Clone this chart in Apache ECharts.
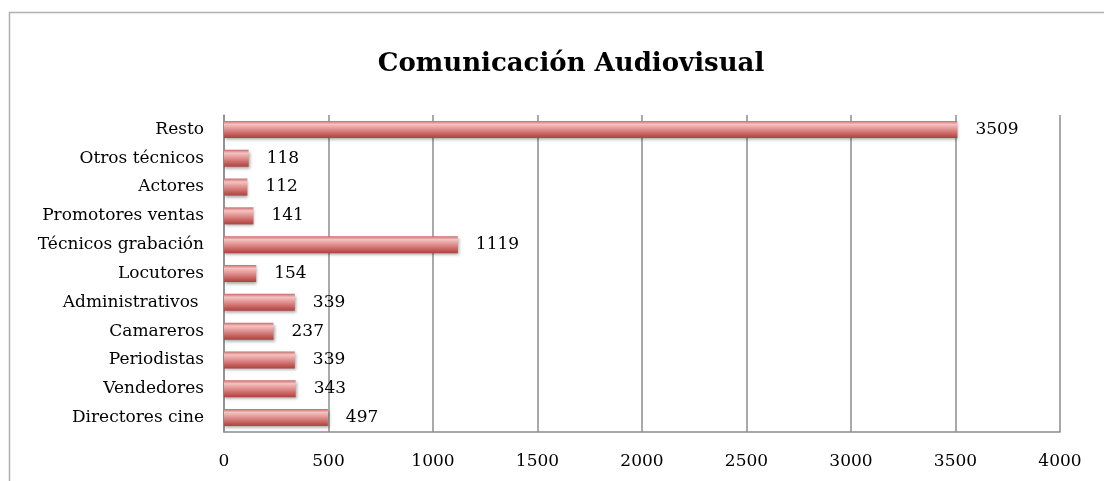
<!DOCTYPE html>
<html>
<head>
<meta charset="utf-8">
<script src="https://cdn.jsdelivr.net/npm/echarts@6/dist/echarts.min.js"></script>
<style>
  html, body { margin: 0; padding: 0; background: #fff; }
  #chart { width: 1104px; height: 481px; }
</style>
</head>
<body>
<div id="chart"></div>
<script>
// categories, bottom to top
const categories = ['Directores cine', 'Vendedores', 'Periodistas', 'Camareros', 'Administrativos ',
  'Locutores', 'Técnicos grabación', 'Promotores ventas', 'Actores', 'Otros técnicos', 'Resto']
const values = [497, 343, 339, 237, 339, 154, 1119, 141, 112, 118, 3509]
const xTicks = [0, 500, 1000, 1500, 2000, 2500, 3000, 3500, 4000]

const chart = echarts.init(document.getElementById('chart'))

const serif = '"DejaVu Serif", "Liberation Serif", serif'

const option = {
  animation: false,
  title: {
    text: 'Comunicación Audiovisual',
    left: 566,
    top: 46,
    textAlign: 'center',
    textStyle: {
      fontFamily: serif,
      fontWeight: 'bold',
      fontSize: 26,
      color: '#000'
    }
  },
  // outer frame, only top and left edges are inside the picture
  graphic: [{
    type: 'polyline',
    shape: { points: [[9.5, 481], [9.5, 12.5], [1104, 12.5]] },
    style: { fill: 'none', stroke: '#b0b0b0', lineWidth: 1.5 },
    silent: true
  }],
  grid: {
    left: 224,
    right: 44,
    top: 115,
    bottom: 49
  },
  xAxis: {
    type: 'value',
    min: xTicks[0],
    max: xTicks[xTicks.length - 1],
    interval: 500,
    axisLine: { show: true, lineStyle: { color: '#8c8c8c', width: 1.5 } },
    axisTick: { show: false },
    axisLabel: {
      color: '#000',
      fontFamily: serif,
      fontSize: 17,
      margin: 21,
      formatter: v => String(v)
    },
    splitLine: { show: true, lineStyle: { color: '#8c8c8c', width: 1.5 } }
  },
  yAxis: {
    type: 'category',
    data: categories,
    axisLine: { show: true, lineStyle: { color: '#8c8c8c', width: 1.5 } },
    axisTick: { show: false },
    axisLabel: {
      color: '#000',
      fontFamily: serif,
      fontSize: 17,
      margin: 20
    }
  },
  series: [{
    type: 'bar',
    data: values,
    barWidth: 17,
    itemStyle: {
      color: new echarts.graphic.LinearGradient(0, 0, 0, 1, [
        { offset: 0, color: '#c66b69' },
        { offset: 0.2, color: '#f4c3c2' },
        { offset: 0.5, color: '#df8f8d' },
        { offset: 0.85, color: '#bf5653' },
        { offset: 1, color: '#a84542' }
      ]),
      shadowColor: 'rgba(0,0,0,0.35)',
      shadowBlur: 3,
      shadowOffsetX: 1,
      shadowOffsetY: 2
    },
    label: {
      show: true,
      position: 'right',
      distance: 18,
      color: '#000',
      fontFamily: serif,
      fontSize: 17
    }
  }]
}

chart.setOption(option)
</script>
</body>
</html>
